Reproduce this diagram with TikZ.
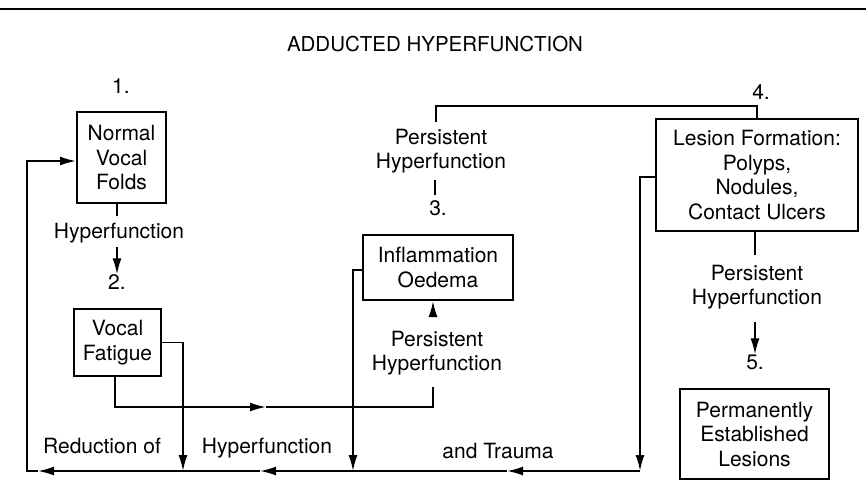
\documentclass[tikz,border=0pt]{standalone}
\usepackage{fontspec}
\setmainfont{TeX Gyre Heros}
\usetikzlibrary{arrows.meta}
\begin{document}
\begin{tikzpicture}[x=1pt,y=-1pt,
  txt/.style={font=\fontsize{21}{24.5}\selectfont, align=center, inner sep=0pt},
  box/.style={txt, draw, line width=2pt},
  conn/.style={line width=1.8pt},
  arr/.style={conn, -{Latex[length=16pt,width=9pt]}},
]
\useasboundingbox (0,0) rectangle (866,499);
\draw[line width=2.2pt] (0,9) -- (866,9);
\node[txt, font=\fontsize{20.5}{24}\selectfont] (title) at (435,44) {ADDUCTED HYPERFUNCTION};

% numbers
\node[txt] (n1) at (121,86) {1.};
\node[txt] (n2) at (117,282) {2.};
\node[txt] (n3) at (438,208) {3.};
\node[txt] (n4) at (761,92) {4.};
\node[txt] (n5) at (755,362) {5.};

% boxes
\node[box, minimum width=89pt, minimum height=91pt] (A) at (121.5,157.5) {Normal\\Vocal\\Folds};
\node[box, minimum width=87pt, minimum height=67pt] (B) at (117.5,342.5) {Vocal\\Fatigue};
\node[box, minimum width=150pt, minimum height=65pt] (C) at (438,267.5) {Inflammation\\Oedema};
\node[box, minimum width=202pt, minimum height=112pt] (D) at (757,175) {Lesion Formation:\\Polyps,\\Nodules,\\Contact Ulcers};
\node[box, minimum width=149pt, minimum height=90pt] (E) at (754.5,434) {Permanently\\Established\\Lesions};

% labels
\node[txt] (h1) at (119,233) {Hyperfunction};
\node[txt] (ptop) at (441,151) {Persistent\\Hyperfunction};
\node[txt] (pmid) at (437,353) {Persistent\\Hyperfunction};
\node[txt] (pright) at (757,287) {Persistent\\Hyperfunction};
\node[txt] (r1) at (102,446) {Reduction of};
\node[txt] (r2) at (267,448) {Hyperfunction};
\node[txt] (r3) at (498,451) {and Trauma};

% helper coordinates
\coordinate (busR) at (640,471);
\coordinate (busL) at (27,471);
\coordinate (j1) at (183,471);
\coordinate (j2) at (353,471);
\coordinate (m1) at (507,471);
\coordinate (m2) at (260,471);
\coordinate (m3) at (38,471);
\coordinate (ya) at (0,161);
\coordinate (ytop) at (0,106);
\coordinate (b1) at (436,122);
\coordinate (bs) at (115,376);
\coordinate (bm) at (266,407);
\coordinate (be) at (433,387);
\coordinate (cs) at (433,317);
\coordinate (cx) at (433,0);
\coordinate (xa) at (117,0);
\coordinate (xd) at (755,0);

% 1 -> 2
\draw[conn] (A.south -| xa) -- (xa |- 0,216);
\draw[arr] (xa |- 0,247) -- (xa |- n2.north);

% 3 -> 4 bracket
\draw[conn] (b1) |- (D.north |- ytop) -- (D.north);
\draw[conn] (435,180) -- (435,195);

% 4 -> 5
\draw[conn] (D.south -| xd) -- (xd |- 0,255);
\draw[arr] (xd |- 0,322) -- (xd |- n5.north);

% vocal fatigue -> inflammation
\draw[arr] (bs) |- (bm);
\draw[conn] (bm) -| (be);
\draw[arr] (cs) -- (C.south -| cx);

% feedback branches into bottom bus
\draw[arr] (B.east) -| (j1);
\draw[arr] (C.west |- 0,270) -| (j2);
\draw[arr] (D.west |- 0,177) -| (busR);

% bottom bus back to normal vocal folds
\draw[arr] (busR) -- (m1);
\draw[arr] (m1) -- (m2);
\draw[arr] (m2) -- (m3);
\draw[arr] (m3) -- (busL) |- (A.west |- ya);
\end{tikzpicture}
\end{document}
